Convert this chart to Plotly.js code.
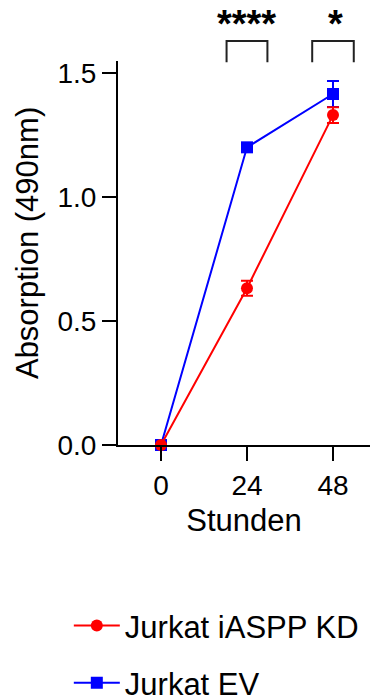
<!DOCTYPE html>
<html>
<head>
<meta charset="utf-8">
<script src="https://cdn.plot.ly/plotly-3.0.1.min.js"></script>
<style>html,body{margin:0;padding:0;background:#fff;}#chart{width:370px;height:698px;}</style>
</head>
<body>
<div id="chart"></div>
<script>
const hours = [0, 24, 48];
const kdName = 'Jurkat iASPP KD';
const kdMean = [0.0, 0.632, 1.33];
const kdErr = [0.0, 0.03, 0.032];
const evName = 'Jurkat EV';
const evMean = [0.0, 1.2, 1.415];
const evErr = [0.0, 0.015, 0.052];
const sigLabels = ['****', '*'];
const sigHours = [24, 48];
const xTicks = [0, 24, 48];
const yTitle = 'Absorption (490nm)';

const font = 'Liberation Sans, Arial, sans-serif';

const traces = [
  {
    x: hours, y: evMean, name: evName, type: 'scatter', mode: 'lines+markers',
    line: {color: '#0000ff', width: 2},
    marker: {symbol: 'square', size: 12, color: '#0000ff'},
    error_y: {type: 'data', array: evErr, visible: true, color: '#0000ff', thickness: 2, width: 6},
    cliponaxis: false, legendgroup: 'ev', legendrank: 2
  },
  {
    x: hours, y: kdMean, name: kdName, type: 'scatter', mode: 'lines+markers',
    line: {color: '#ff0000', width: 2},
    marker: {symbol: 'circle', size: 12, color: '#ff0000'},
    error_y: {type: 'data', array: kdErr, visible: true, color: '#ff0000', thickness: 2, width: 6},
    cliponaxis: false, legendgroup: 'kd', legendrank: 1
  }
];

const bracketHalf = [5.7, 5.8];
const shapes = sigHours.map((h, i) => ({
  type: 'path', xref: 'x', yref: 'paper',
  path: `M ${h - bracketHalf[i]} 0.997 L ${h - bracketHalf[i]} 1.052 L ${h + bracketHalf[i]} 1.052 L ${h + bracketHalf[i]} 0.997`,
  line: {color: '#222', width: 2}
}));

const annotations = sigHours.map((h, i) => ({
  x: h + (i === 1 ? 0.7 : 0), y: 1.037, xref: 'x', yref: 'paper',
  text: '<b>' + sigLabels[i] + '</b>', showarrow: false,
  xanchor: 'center', yanchor: 'bottom',
  font: {family: font, size: 38, color: '#000'}
}));
annotations.push({
  x: -0.361, y: 0.526, xref: 'paper', yref: 'paper',
  text: yTitle, showarrow: false, textangle: -90,
  xanchor: 'center', yanchor: 'middle',
  font: {family: font, size: 31, color: '#000'}
});

const layout = {
  width: 370, height: 698,
  margin: {l: 118, r: 0, t: 61, b: 253, autoexpand: false},
  paper_bgcolor: '#fff', plot_bgcolor: '#fff',
  showlegend: true,
  font: {family: font, color: '#000'},
  xaxis: {
    range: [-12, 58.33], tickvals: xTicks, ticktext: xTicks.map(String), tickangle: 0,
    showline: true, linewidth: 2, linecolor: '#000',
    ticks: 'outside', ticklen: 14, tickwidth: 2, tickcolor: '#000',
    showgrid: false, zeroline: false, automargin: true,
    tickfont: {family: font, size: 28, color: '#000'},
    title: {text: 'Stunden', font: {family: font, size: 31, color: '#000'}, standoff: 10}
  },
  yaxis: {
    range: [0, 1.548], tickvals: [0, 0.5, 1.0, 1.5], ticktext: ['0.0', '0.5', '1.0', '1.5'],
    showline: true, linewidth: 2, linecolor: '#000',
    ticks: 'outside', ticklen: 14, tickwidth: 2, tickcolor: '#000',
    showgrid: false, zeroline: false, automargin: true,
    tickfont: {family: font, size: 28, color: '#000'}
  },
  legend: {
    xref: 'container', yref: 'container',
    x: 0.186, y: 0.142, xanchor: 'left', yanchor: 'top',
    orientation: 'v', tracegroupgap: 14,
    font: {family: font, size: 31, color: '#000'},
    bgcolor: 'rgba(0,0,0,0)', itemwidth: 46
  },
  shapes: shapes,
  annotations: annotations
};

Plotly.newPlot('chart', traces, layout, {displayModeBar: false, staticPlot: true});
</script>
</body>
</html>
